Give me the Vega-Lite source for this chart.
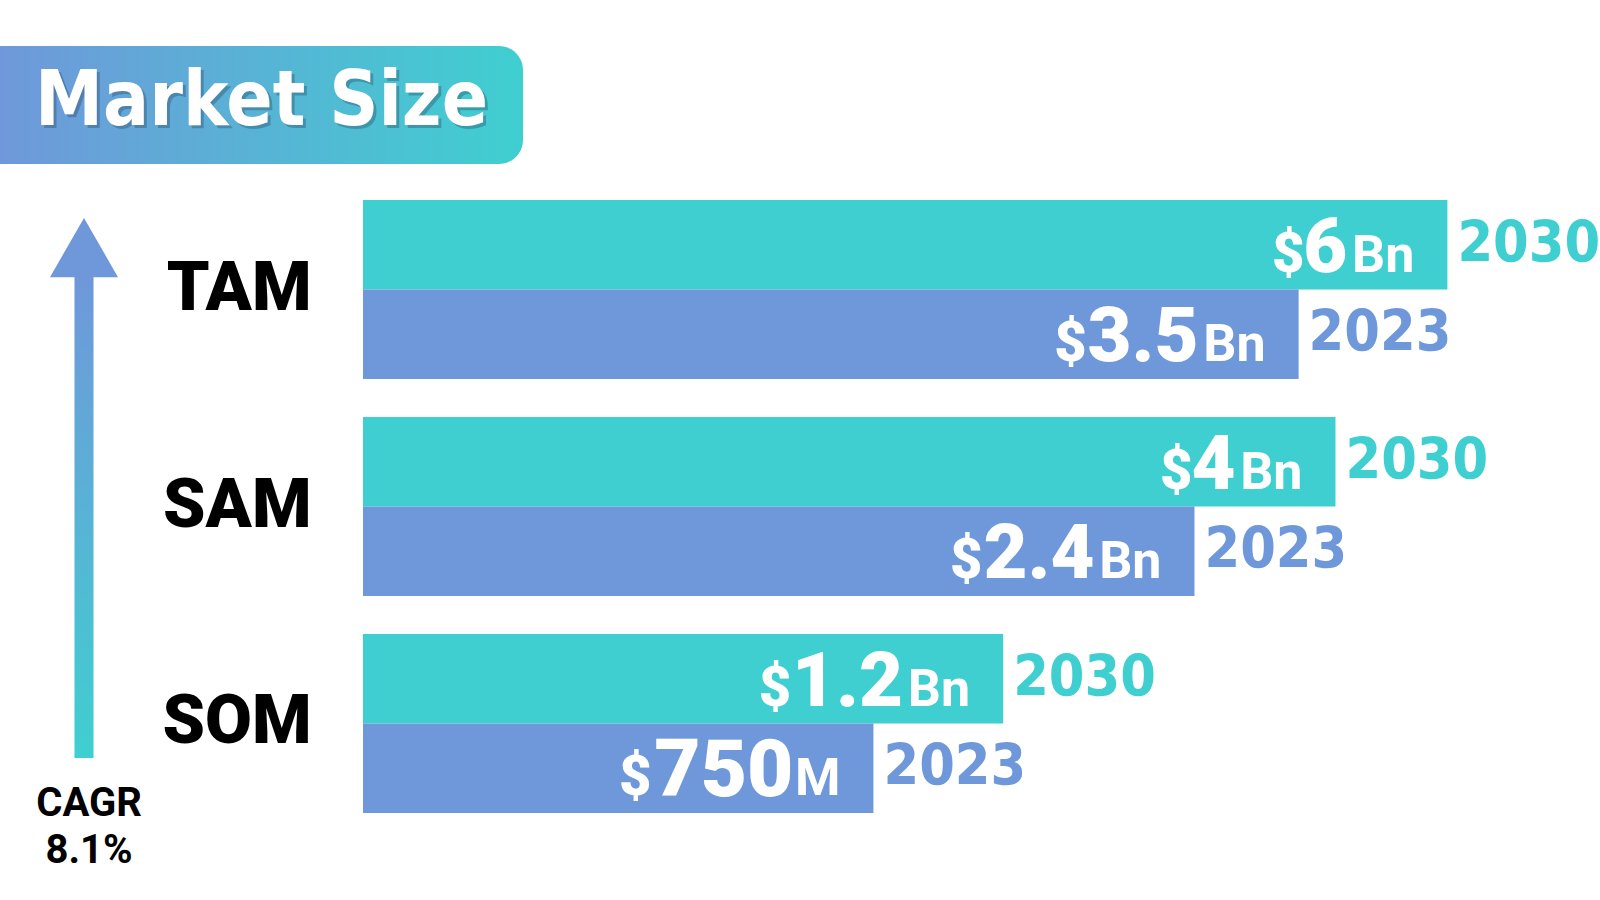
{
  "$schema": "https://vega.github.io/schema/vega-lite/v6.json",
  "background": "white",
  "padding": {"left": 0, "top": 46, "right": 0, "bottom": 10},
  "autosize": {"type": "pad"},
  "bounds": "flush",
  "spacing": 36,
  "config": {"view": {"stroke": null}, "font": "Roboto"},
  "vconcat": [
    {
      "width": 523,
      "height": 118,
      "data": {"values": [{"title": "Market Size"}]},
      "layer": [
        {
          "mark": {"type": "rect", "cornerRadiusTopRight": 24, "cornerRadiusBottomRight": 24,
            "color": {"gradient": "linear", "x1": 0, "y1": 0, "x2": 1, "y2": 0,
              "stops": [{"offset": 0, "color": "#6F98DA"}, {"offset": 1, "color": "#3FCFD0"}]}},
          "encoding": {}
        },
        {
          "mark": {"type": "text", "font": "DejaVu Sans Condensed", "fontWeight": "bold", "fontSize": 76, "color": "#1B3550", "opacity": 0.3, "baseline": "middle", "align": "center", "dx": 3, "dy": 0},
          "encoding": {"text": {"field": "title"}}
        },
        {
          "mark": {"type": "text", "font": "DejaVu Sans Condensed", "fontWeight": "bold", "fontSize": 76, "color": "white", "baseline": "middle", "align": "center", "dy": -3},
          "encoding": {"text": {"field": "title"}}
        }
      ]
    },
    {
      "bounds": "flush",
      "spacing": 195,
      "hconcat": [
        {
          "width": 168,
          "height": 576,
          "data": {"values": [{"metric": "CAGR", "rate": "8.1%"}]},
          "title": {"text": ["CAGR", "8.1%"], "orient": "bottom", "anchor": "middle", "font": "Roboto", "fontSize": 40, "fontWeight": "bold", "color": "black", "lineHeight": 47, "offset": 8, "dx": 5},
          "mark": {
            "type": "point",
            "shape": "M0,-1L0.126,-0.781L0.0352,-0.781L0.0352,1L-0.0352,1L-0.0352,-0.781L-0.126,-0.781Z",
            "size": 291600,
            "filled": true,
            "opacity": 1,
            "strokeWidth": 0,
            "color": {"gradient": "linear", "x1": 0, "y1": 0, "x2": 0, "y2": 1,
              "stops": [{"offset": 0, "color": "#6F98DA"}, {"offset": 0.12, "color": "#6F98DA"}, {"offset": 1, "color": "#3FCFD0"}]}
          },
          "encoding": {}
        },
        {
          "width": 1237,
          "height": 613,
          "data": {"values": [
            {"segment": "TAM", "year": "2030", "value": 6000, "amount": "6", "unit": "Bn"},
            {"segment": "TAM", "year": "2023", "value": 3500, "amount": "3.5", "unit": "Bn"},
            {"segment": "SAM", "year": "2030", "value": 4000, "amount": "4", "unit": "Bn"},
            {"segment": "SAM", "year": "2023", "value": 2400, "amount": "2.4", "unit": "Bn"},
            {"segment": "SOM", "year": "2030", "value": 1200, "amount": "1.2", "unit": "Bn"},
            {"segment": "SOM", "year": "2023", "value": 750, "amount": "750", "unit": "M"}
          ]},
          "encoding": {
            "y": {"field": "segment", "type": "nominal", "sort": ["TAM", "SAM", "SOM"],
              "scale": {"paddingInner": 0.175, "paddingOuter": 0},
              "axis": {"title": null, "domain": false, "ticks": false, "tickSize": 0, "grid": false, "labelPadding": 52, "labelFont": "Roboto", "labelFontWeight": 900, "labelFontSize": 68, "labelColor": "black", "labelLimit": 400, "labelAlign": "right", "labelBaseline": "middle"}},
            "yOffset": {"field": "year", "type": "nominal", "sort": ["2030", "2023"], "scale": {"paddingInner": 0, "paddingOuter": 0}},
            "x": {"field": "value", "type": "quantitative", "stack": null, "scale": {"type": "log", "domain": [118, 10430]}, "axis": null}
          },
          "layer": [
            {
              "mark": {"type": "bar"},
              "encoding": {"color": {"field": "year", "type": "nominal", "scale": {"domain": ["2030", "2023"], "range": ["#3FCFD0", "#6F98DA"]}, "legend": null}}
            },
            {
              "mark": {"type": "text", "align": "right", "baseline": "alphabetic", "dx": -33, "dy": 27, "fontSize": 52, "fontWeight": "bold", "font": "Roboto", "color": "white"},
              "encoding": {"text": {"field": "unit"}}
            },
            {
              "transform": [{"filter": "datum.unit == 'Bn'"}],
              "mark": {"type": "text", "align": "right", "baseline": "alphabetic", "dx": -100, "dy": 27, "fontSize": 76, "fontWeight": 900, "font": "Roboto", "color": "white"},
              "encoding": {"text": {"field": "amount"}}
            },
            {
              "transform": [{"filter": "datum.unit == 'M'"}],
              "mark": {"type": "text", "align": "right", "baseline": "alphabetic", "dx": -80, "dy": 28, "fontSize": 80, "fontWeight": 900, "font": "Roboto", "color": "white"},
              "encoding": {"text": {"field": "amount"}}
            },
            {
              "transform": [{"filter": "datum.unit == 'Bn' && length(datum.amount) == 1"}],
              "mark": {"type": "text", "align": "right", "baseline": "alphabetic", "dx": -143, "dy": 27, "fontSize": 56, "fontWeight": 900, "font": "Roboto", "color": "white"},
              "encoding": {"text": {"value": "$"}}
            },
            {
              "transform": [{"filter": "datum.unit == 'Bn' && length(datum.amount) == 3"}],
              "mark": {"type": "text", "align": "right", "baseline": "alphabetic", "dx": -212, "dy": 27, "fontSize": 56, "fontWeight": 900, "font": "Roboto", "color": "white"},
              "encoding": {"text": {"value": "$"}}
            },
            {
              "transform": [{"filter": "datum.unit == 'M'"}],
              "mark": {"type": "text", "align": "right", "baseline": "alphabetic", "dx": -222, "dy": 27, "fontSize": 56, "fontWeight": 900, "font": "Roboto", "color": "white"},
              "encoding": {"text": {"value": "$"}}
            },
            {
              "mark": {"type": "text", "align": "left", "baseline": "middle", "dx": 10, "fontSize": 57, "fontWeight": "bold", "font": "DejaVu Sans Condensed"},
              "encoding": {"text": {"field": "year"}, "color": {"field": "year", "type": "nominal", "legend": null}}
            }
          ]
        }
      ]
    }
  ]
}
